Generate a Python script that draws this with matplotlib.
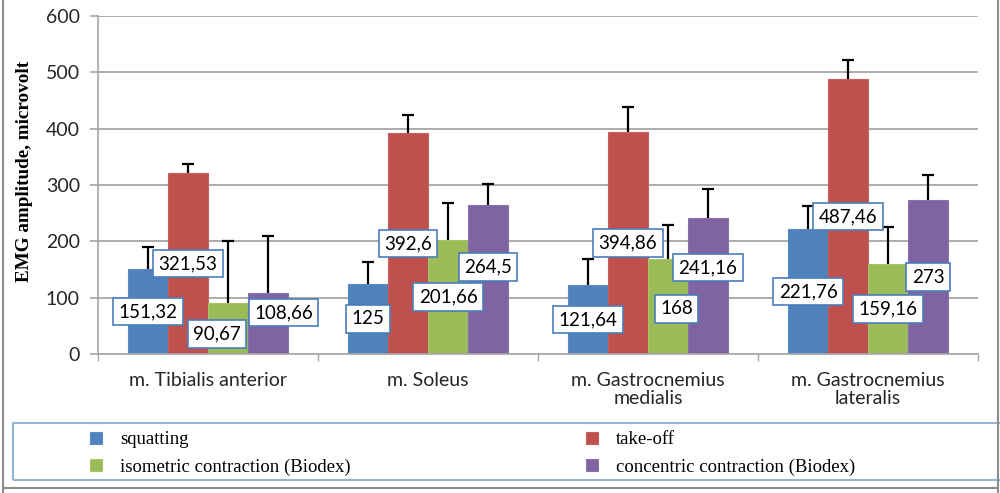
import numpy as np
import matplotlib
matplotlib.use("Agg")
import matplotlib.pyplot as plt
from matplotlib.lines import Line2D
from matplotlib.patches import Rectangle

# muscles on the x axis
muscles = ["m. Tibialis anterior", "m. Soleus", "m. Gastrocnemius\nmedialis",
           "m. Gastrocnemius\nlateralis"]
series = ["squatting", "take-off", "isometric contraction (Biodex)",
          "concentric contraction (Biodex)"]

# mean EMG amplitude (microvolt) per series, one value per muscle
squatting = [151.32, 125, 121.64, 221.76]
take_off = [321.53, 392.6, 394.86, 487.46]
isometric = [90.67, 201.66, 168, 159.16]
concentric = [108.66, 264.5, 241.16, 273]

# upper error bars
squatting_err = [39, 39, 47, 41]
take_off_err = [16, 31, 43, 34]
isometric_err = [110, 66, 61, 67]
concentric_err = [100, 37, 52, 44]

values = [squatting, take_off, isometric, concentric]
errors = [squatting_err, take_off_err, isometric_err, concentric_err]
colors = ["#4F81BD", "#C0504D", "#9BBB59", "#8064A2"]
edges = ["#5B8CC6", "#C9605D", "#A8C46A", "#8C72AD"]

# a few data labels were nudged in the original, (series, muscle): (dx, dy)
label_shift = {(2, 0): (-0.05, -10), (3, 0): (0.07, 19), (3, 1): (0, 22),
               (2, 2): (0.04, -4), (3, 2): (0, 33)}

fig = plt.figure(figsize=(10, 4.93), dpi=100)
ax = fig.add_axes([0.098, 1 - 354 / 493, 0.88, 338 / 493])

x = np.arange(len(muscles))
width = 40 / 220

for i in range(len(series)):
    pos = x + (i - 1.5) * width
    ax.bar(pos, values[i], width, color=colors[i], edgecolor=edges[i],
           linewidth=0.8, label=series[i], zorder=2)
    eb = ax.errorbar(pos, values[i], yerr=[np.zeros(len(x)), errors[i]], fmt="none",
                     ecolor="black", elinewidth=1.6, capsize=4, capthick=1.6, zorder=3)
    # only the upper cap is drawn in the original
    eb[1][0].set_visible(False)
    for j, v in enumerate(values[i]):
        dx, dy = label_shift.get((i, j), (0, 0))
        ax.text(pos[j] + dx, v / 2 + dy, f"{v:g}".replace(".", ","),
                ha="center", va="center", fontsize=13.5, family="Lato",
                color="black", zorder=5,
                bbox=dict(boxstyle="square,pad=0.28", fc="white",
                          ec="#4A7EBB", lw=1.2))

ax.set_xlim(-0.5, len(muscles) - 0.5)
ax.set_ylim(0, 600)
ax.set_yticks(np.arange(0, 700, 100))
ax.yaxis.grid(True, color="#A6A6A6", linewidth=1.3, zorder=0)
ax.set_axisbelow(True)

ax.set_xticks(x)
ax.set_xticklabels(muscles, fontsize=14, family="Lato", color="#262626",
                   linespacing=1.1)
ax.set_xticks(np.arange(-0.5, len(muscles)), minor=True)
ax.tick_params(axis="x", which="major", length=0, pad=13)
ax.tick_params(axis="x", which="minor", length=5, color="#A6A6A6", width=1)
ax.tick_params(axis="y", length=6, color="#A6A6A6", width=1.2, pad=7,
               labelsize=14, labelcolor="#262626")
for t in ax.get_yticklabels():
    t.set_family("Lato")

for s in ["top", "right"]:
    ax.spines[s].set_visible(False)
for s in ["left", "bottom"]:
    ax.spines[s].set_color("#A6A6A6")
    ax.spines[s].set_linewidth(1.2)

ax.set_ylabel("EMG amplitude, microvolt", family="Liberation Serif",
              fontweight="bold", fontsize=13.8)
ax.yaxis.set_label_coords(-0.074, 0.54)

# legend in a framed strip under the chart, two columns
handles, labels = ax.get_legend_handles_labels()
leg_kw = dict(frameon=False, handlelength=0.6, handleheight=0.6,
              handletextpad=1.0, labelspacing=0.55, borderpad=0,
              prop={"family": "Liberation Serif", "size": 13.5})
leg1 = fig.legend([handles[0], handles[2]], [labels[0], labels[2]],
                  loc="upper left", bbox_to_anchor=(0.081, 1 - 422 / 493), **leg_kw)
leg2 = fig.legend([handles[1], handles[3]], [labels[1], labels[3]],
                  loc="upper left", bbox_to_anchor=(0.577, 1 - 422 / 493), **leg_kw)

fig.patches.append(Rectangle((0.013, 1 - 480 / 493), 0.99, 57 / 493,
                             transform=fig.transFigure, fill=False,
                             ec="#95B3D7", lw=1.5))

# outer gray frame of the original picture
for xs, ys in [([0.003, 0.003], [0, 1]), ([0.998, 0.998], [0, 1]),
               ([0.003, 0.998], [1 - 488 / 493, 1 - 488 / 493])]:
    fig.lines.append(Line2D(xs, ys, transform=fig.transFigure,
                            color="#8C8C8C", lw=1.5))

fig.savefig("out.png", dpi=100)
